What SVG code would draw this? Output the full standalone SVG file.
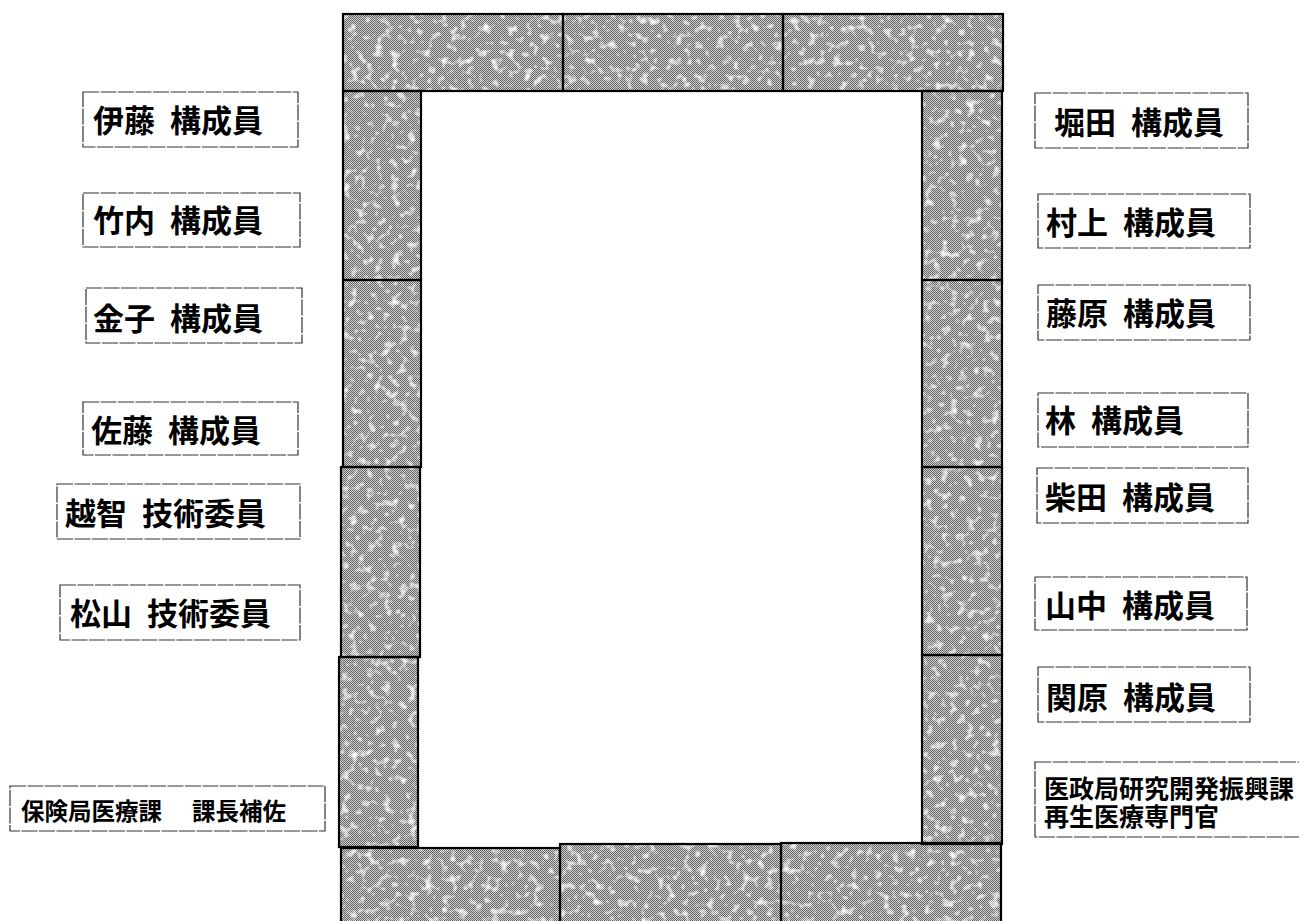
<svg xmlns="http://www.w3.org/2000/svg" width="1299" height="921" viewBox="0 0 1299 921">
<style>
.lbl rect{fill:#fff;stroke:#333;stroke-width:1.2;stroke-dasharray:16 1.5}
.lbl text{font-family:"Noto Sans CJK JP","Noto Sans CJK SC",sans-serif;font-weight:700;font-size:31px;word-spacing:8px;fill:#000}
.tbl rect.f{fill:url(#dither)}
.tbl rect.b{fill:none;stroke:#000;stroke-width:2.2}
</style>
<defs>
<pattern id="dither" width="2" height="2" patternUnits="userSpaceOnUse">
<rect width="2" height="2" fill="#d0d0d0"/>
<rect width="1" height="1" fill="#606060"/>
<rect x="1" y="1" width="1" height="1" fill="#6a6a6a"/>
</pattern>
<filter id="spots" x="0" y="0" width="1" height="1">
<feTurbulence type="fractalNoise" baseFrequency="0.12" numOctaves="2" seed="7" result="n"/>
<feColorMatrix in="n" type="matrix" values="0 0 0 0 1  0 0 0 0 1  0 0 0 0 1  3.2 0 0 0 -1.75" result="w"/>
<feComposite in="w" in2="SourceGraphic" operator="in" result="wc"/>
<feMerge><feMergeNode in="SourceGraphic"/><feMergeNode in="wc"/></feMerge>
</filter>
</defs>
<rect width="1299" height="921" fill="#fff"/>

<g id="table" class="tbl">
<g filter="url(#spots)">
<rect class="f" x="343" y="14" width="220" height="77"/>
<rect class="f" x="563" y="14" width="220" height="77"/>
<rect class="f" x="783" y="14" width="220" height="77"/>
<rect class="f" x="343" y="91" width="78" height="189"/>
<rect class="f" x="343" y="280" width="78" height="187"/>
<rect class="f" x="341" y="467" width="79" height="190"/>
<rect class="f" x="339" y="657" width="79" height="190"/>
<rect class="f" x="922" y="91" width="80" height="189"/>
<rect class="f" x="922" y="280" width="80" height="187"/>
<rect class="f" x="922" y="467" width="80" height="188"/>
<rect class="f" x="922" y="655" width="80" height="189"/>
<rect class="f" x="341" y="848" width="219" height="80"/>
<rect class="f" x="560" y="844" width="221" height="84"/>
<rect class="f" x="781" y="843" width="220" height="85"/>
</g>
<rect class="b" x="343" y="14" width="220" height="77"/>
<rect class="b" x="563" y="14" width="220" height="77"/>
<rect class="b" x="783" y="14" width="220" height="77"/>
<rect class="b" x="343" y="91" width="78" height="189"/>
<rect class="b" x="343" y="280" width="78" height="187"/>
<rect class="b" x="341" y="467" width="79" height="190"/>
<rect class="b" x="339" y="657" width="79" height="190"/>
<rect class="b" x="922" y="91" width="80" height="189"/>
<rect class="b" x="922" y="280" width="80" height="187"/>
<rect class="b" x="922" y="467" width="80" height="188"/>
<rect class="b" x="922" y="655" width="80" height="189"/>
<rect class="b" x="341" y="848" width="219" height="80"/>
<rect class="b" x="560" y="844" width="221" height="84"/>
<rect class="b" x="781" y="843" width="220" height="85"/>
</g>

<g id="n-ito" class="lbl"><rect x="83" y="92" width="215" height="55"/><text x="93" y="132">伊藤 構成員</text></g>
<g id="n-takeuchi" class="lbl"><rect x="83" y="193" width="217" height="54"/><text x="93" y="232">竹内 構成員</text></g>
<g id="n-kaneko" class="lbl"><rect x="86" y="288" width="216" height="55"/><text x="93" y="330">金子 構成員</text></g>
<g id="n-sato" class="lbl"><rect x="83" y="402" width="215" height="53"/><text x="91" y="442">佐藤 構成員</text></g>
<g id="n-ochi" class="lbl"><rect x="57" y="484" width="243" height="55"/><text x="65" y="525">越智 技術委員</text></g>
<g id="n-matsuyama" class="lbl"><rect x="60" y="585" width="240" height="55"/><text x="70" y="625">松山 技術委員</text></g>
<g id="n-hoken" class="lbl"><rect x="10" y="786" width="315" height="45"/><text x="21" y="820" style="font-size:23.5px">保険局医療課<tspan x="192">課長補佐</tspan></text></g>

<g id="n-hotta" class="lbl"><rect x="1035" y="93" width="213" height="55"/><text x="1054" y="134">堀田 構成員</text></g>
<g id="n-murakami" class="lbl"><rect x="1038" y="194" width="212" height="54"/><text x="1046" y="234">村上 構成員</text></g>
<g id="n-fujiwara" class="lbl"><rect x="1038" y="285" width="212" height="55"/><text x="1046" y="325">藤原 構成員</text></g>
<g id="n-hayashi" class="lbl"><rect x="1038" y="393" width="210" height="54"/><text x="1045" y="432">林 構成員</text></g>
<g id="n-shibata" class="lbl"><rect x="1037" y="468" width="211" height="55"/><text x="1045" y="509">柴田 構成員</text></g>
<g id="n-yamanaka" class="lbl"><rect x="1035" y="577" width="212" height="53"/><text x="1045" y="617">山中 構成員</text></g>
<g id="n-sekihara" class="lbl"><rect x="1038" y="667" width="212" height="55"/><text x="1046" y="709">関原 構成員</text></g>
<g id="n-isei" class="lbl"><rect x="1035" y="762" width="270" height="75"/><text x="1044" y="798" style="font-size:25px">医政局研究開発振興課<tspan x="1044" y="826">再生医療専門官</tspan></text></g>
</svg>
